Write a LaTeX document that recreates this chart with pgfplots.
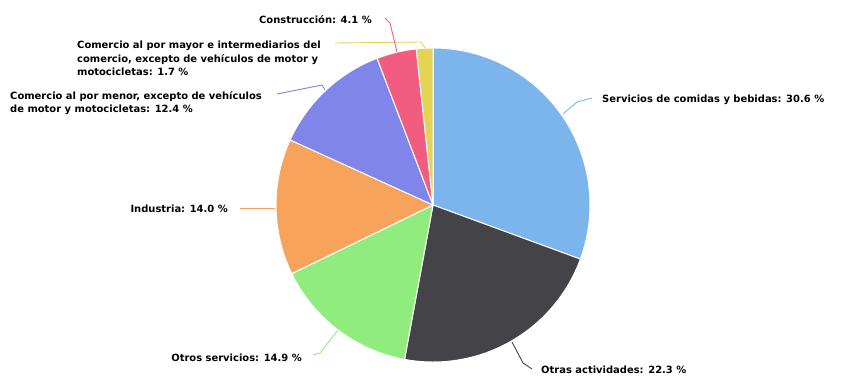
\documentclass[border=0pt]{standalone}
\usepackage{pgfplots}
\usepackage{pgfplotstable}
\pgfplotsset{compat=1.18}
\usepackage{fontspec}
\setmainfont{DejaVu Sans}
\definecolor{c0}{HTML}{7CB5EC}
\definecolor{c1}{HTML}{434348}
\definecolor{c2}{HTML}{90ED7D}
\definecolor{c3}{HTML}{F7A35C}
\definecolor{c4}{HTML}{8085E9}
\definecolor{c5}{HTML}{F15C80}
\definecolor{c6}{HTML}{E4D354}

\pgfplotstableread{
value
30.6
22.3
14.9
14.0
12.4
4.1
1.7
}\piedata

\gdef\cum{90}
\pgfplotstableforeachcolumnelement{value}\of\piedata\as\v{%
  \pgfmathsetmacro\newcum{\cum-3.6*\v}%
  \expandafter\xdef\csname sa\pgfplotstablerow\endcsname{\cum}%
  \expandafter\xdef\csname ea\pgfplotstablerow\endcsname{\newcum}%
  \xdef\cum{\newcum}%
}
\tikzset{lbl/.style={inner sep=0pt,font=\fontsize{9.95}{12}\selectfont\bfseries}}

\begin{document}
\begin{tikzpicture}
\begin{axis}[width=843pt,height=380pt,scale only axis,
  xmin=0,xmax=843,ymin=0,ymax=380,hide axis,clip=false]
\path[draw=none] (axis cs:0,0) rectangle (axis cs:843,380);
\pgfplotsinvokeforeach{0,...,6}{%
  \pgfplotsextra{%
    \edef\sA{\csname sa#1\endcsname}%
    \edef\eA{\csname ea#1\endcsname}%
    \fill[c#1, draw=white, line width=1pt, line join=round]
      (axis cs:433,175) -- ++(\sA:157pt) arc[start angle=\sA, end angle=\eA, radius=157pt] -- cycle;
  }%
}
% connectors
\addplot[c0, line width=0.9pt, no marks] coordinates {(592,282) (577,278) (563,266)};
\addplot[c1, line width=0.9pt, no marks] coordinates {(532,11) (523,17) (512,38)};
\addplot[c2, line width=0.9pt, no marks] coordinates {(313,25) (320,27) (338,50)};
\addplot[c3, line width=0.9pt, no marks] coordinates {(240,172) (275,172)};
\addplot[c4, line width=0.9pt, no marks] coordinates {(277,286) (322,295) (325,290)};
\addplot[c6, line width=0.9pt, no marks] coordinates {(335,337) (421,338) (425,332)};
\addplot[c5, line width=0.9pt, no marks] coordinates {(385,362) (390,357) (397,328)};
% labels
\node[lbl,anchor=base east] at (axis cs:372,356) {Construcción: 4.1 \%};
\node[lbl,anchor=base west] at (axis cs:77,331) {Comercio al por mayor e intermediarios del};
\node[lbl,anchor=base west] at (axis cs:77,317.5) {comercio, excepto de vehículos de motor y};
\node[lbl,anchor=base west] at (axis cs:77,304) {motocicletas: 1.7 \%};
\node[lbl,anchor=base west] at (axis cs:10,280) {Comercio al por menor, excepto de vehículos};
\node[lbl,anchor=base west] at (axis cs:10,267) {de motor y motocicletas: 12.4 \%};
\node[lbl,anchor=base west] at (axis cs:602,277) {Servicios de comidas y bebidas: 30.6 \%};
\node[lbl,anchor=base east] at (axis cs:228,167) {Industria: 14.0 \%};
\node[lbl,anchor=base east] at (axis cs:302,18) {Otros servicios: 14.9 \%};
\node[lbl,anchor=base west] at (axis cs:541,6) {Otras actividades: 22.3 \%};
\end{axis}
\end{tikzpicture}
\end{document}
